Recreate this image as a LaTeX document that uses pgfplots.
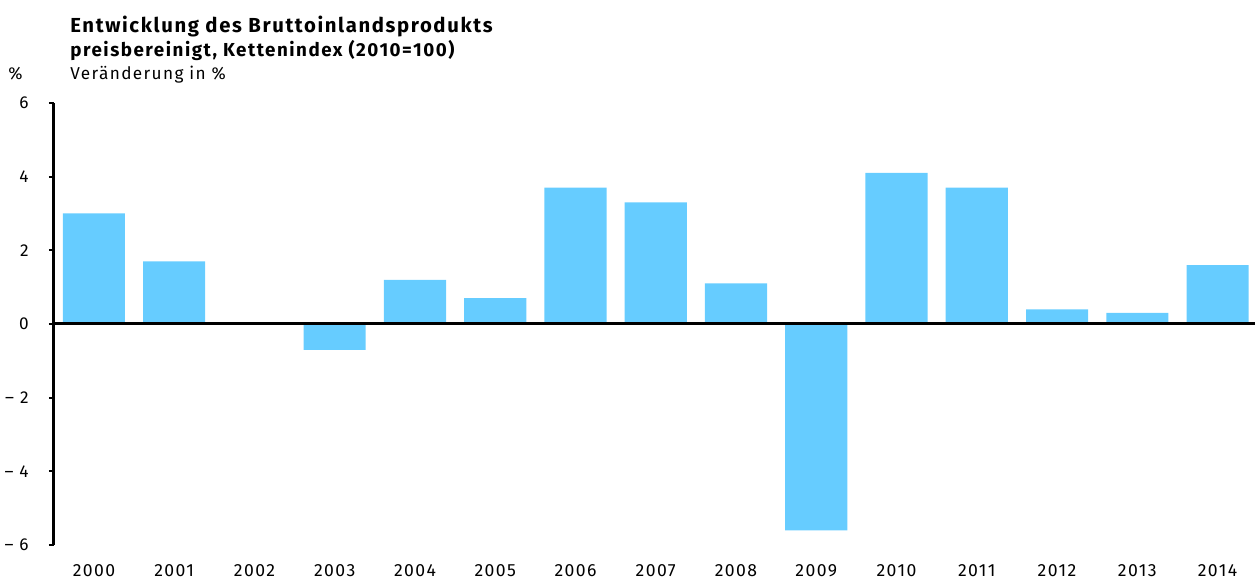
\documentclass[border=0pt]{standalone}
\usepackage{fontspec}
\setmainfont{Fira Sans}[LetterSpace=8]
\usepackage{pgfplots}
\pgfplotsset{compat=1.18}
\definecolor{barblue}{HTML}{66CCFF}
\begin{document}
\begin{tikzpicture}
\path[use as bounding box] (-27pt,-17pt) rectangle (600.5pt,272.5pt);
\begin{axis}[
  scale only axis,
  width=600.5pt, height=221pt,
  at={(0,0)}, anchor=south west,
  xmin=-0.498, xmax=14.467,
  ymin=-6, ymax=6,
  ybar, bar width=0.773,
  axis y line*=left, axis x line*=bottom,
  x axis line style={draw=none},
  y axis line style={line width=1.5pt, -},
  xtick={0,...,14},
  xticklabels={2000,2001,2002,2003,2004,2005,2006,2007,2008,2009,2010,2011,2012,2013,2014},
  major x tick style={draw=none},
  ytick={-6,-4,...,6},
  yticklabels={-- 6,-- 4,-- 2,0,2,4,6},
  tick align=outside,
  major tick length=2.5pt,
  y tick style={line width=1pt, black},
  yticklabel style={font=\fontsize{8.6}{9}\selectfont, anchor=east, inner sep=0pt, xshift=-10pt},
  xticklabel style={font=\fontsize{8.8}{9}\selectfont, anchor=north, inner sep=0pt, yshift=-7.3pt},
  clip=false,
]
\addplot[fill=barblue, draw=none, bar shift=0pt] coordinates {
(0,3.0) (1,1.7) (2,0.0) (3,-0.7) (4,1.2) (5,0.7) (6,3.7) (7,3.3)
(8,1.1) (9,-5.6) (10,4.1) (11,3.7) (12,0.4) (13,0.3) (14,1.6)};
\draw[line width=1.5pt] (axis cs:-0.498,0) -- (axis cs:14.467,0);
\end{axis}
\node[anchor=base west, inner sep=0pt, font=\bfseries\fontsize{10.15}{11}\selectfont] at (8pt,256pt) {Entwicklung des Bruttoinlandsprodukts};
\node[anchor=base west, inner sep=0pt, font=\bfseries\fontsize{9.4}{10}\selectfont] at (8pt,244pt) {preisbereinigt, Kettenindex (2010=100)};
\node[anchor=base west, inner sep=0pt, font=\fontsize{8.6}{10}\selectfont] at (8pt,232.5pt) {Veränderung in \%};
\node[anchor=base west, inner sep=0pt, font=\fontsize{8.6}{10}\selectfont] at (-23pt,232.5pt) {\%};
\end{tikzpicture}
\end{document}
